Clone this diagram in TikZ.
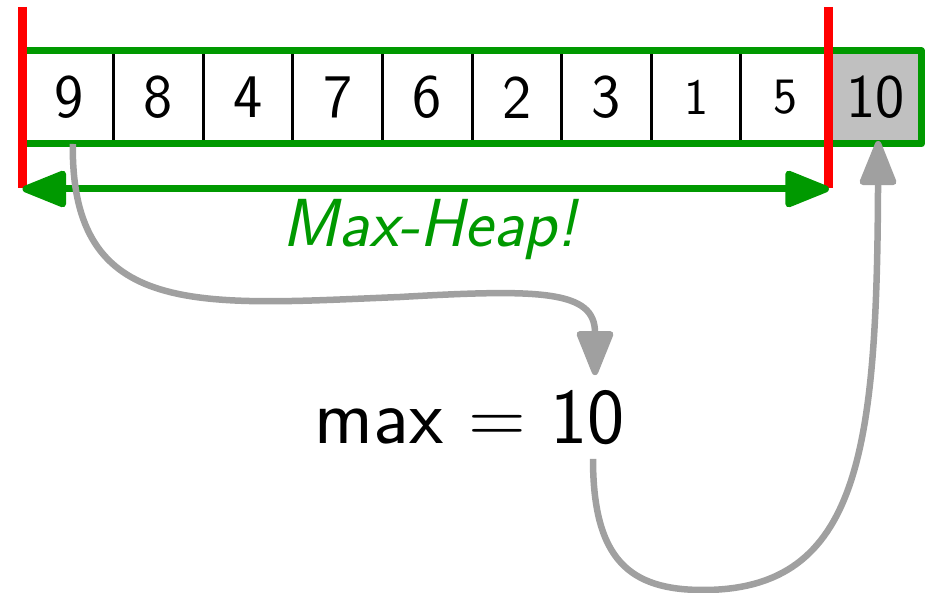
\documentclass[tikz,border=0pt]{standalone}
\usepackage{fontspec}
\usetikzlibrary{arrows.meta}
\renewcommand\familydefault{\sfdefault}
\definecolor{hgreen}{RGB}{0,153,0}
\definecolor{hgray}{RGB}{160,160,160}
\definecolor{cellgray}{RGB}{192,192,192}
\begin{document}
\begin{tikzpicture}[x=1pt,y=-1pt,
  cell/.style={draw=black,line width=3pt,minimum width=89.6pt,minimum height=90pt,
    inner sep=0pt,anchor=north west,font=\fontsize{62}{70}\selectfont},
  smalldigit/.style={font=\fontsize{51}{60}\selectfont},
  bigtip/.style={Triangle[length=50pt,width=38pt,round]},
  greenarrow/.style={hgreen,line width=7pt,{Triangle[length=50pt,width=38pt,round]}-{Triangle[length=50pt,width=38pt,round]}},
  grayarrow/.style={hgray,line width=6.5pt,-{Triangle[length=50pt,width=38pt,round]}},
  redbar/.style={red,line width=9pt},
  frame/.style={hgreen,line width=7pt,line join=round}]
\useasboundingbox (0,0) rectangle (927,593);
\node[cell] (c1) at (22.5,51) {9};
\node[cell] (c2) at (112.1,51) {8};
\node[cell] (c3) at (201.7,51) {4};
\node[cell] (c4) at (291.3,51) {7};
\node[cell] (c5) at (380.9,51) {6};
\node[cell] (c6) at (470.5,51) {2};
\node[cell] (c7) at (560.1,51) {3};
\node[cell,smalldigit] (c8) at (649.7,51) {1};
\node[cell,smalldigit] (c9) at (739.3,51) {5};
\node[cell,fill=cellgray] (c10) at (828.9,51) {10};
\draw[frame] (c1.north west) rectangle (c10.south east);
\draw[redbar] ([yshift=44pt]c1.north west) -- ([yshift=-44pt]c1.south west);
\draw[redbar] ([yshift=44pt]c10.north west) -- ([yshift=-44pt]c10.south west);
\draw[greenarrow] ([yshift=-45pt]c1.south west) -- ([yshift=-45pt]c10.south west);
\node[text=hgreen,font=\fontsize{68}{76}\selectfont\itshape] (lbl) at (430,230) {Max-Heap!};
\node[inner sep=0pt,font=\fontsize{79}{88}\selectfont] (mx) at (470,417.5) {max = 10};
\draw[grayarrow] ([xshift=4pt]c1.south) .. controls (71,320) and (200,305) .. (400,297)
  .. controls (540,289) and (595,290) .. ([xshift=125pt,yshift=15pt]mx.north);
\draw[grayarrow] ([xshift=123pt,yshift=-14pt]mx.south) .. controls (593,560) and (630,590) .. (703,590)
  .. controls (860,590) and (877,450) .. ([xshift=3pt,yshift=3pt]c10.south);
\end{tikzpicture}
\end{document}
